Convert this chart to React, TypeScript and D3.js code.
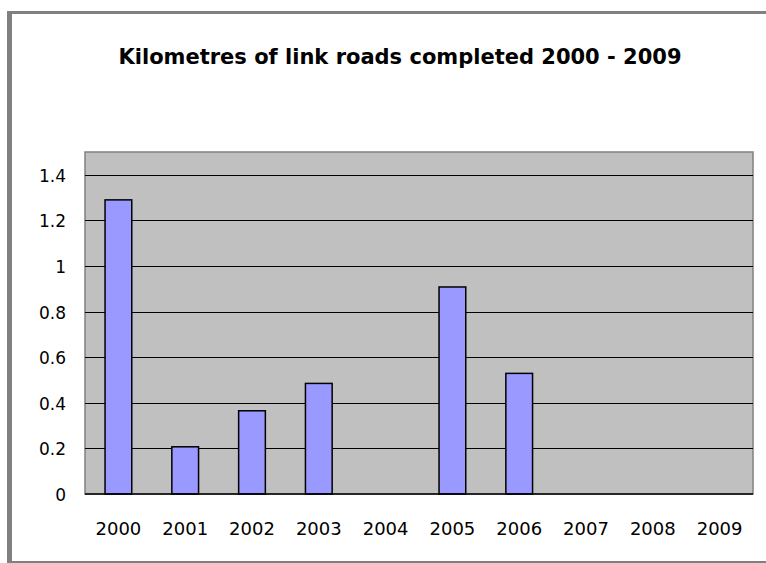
import React, { useRef, useEffect } from "react";
import * as d3 from "d3";

const years = ["2000", "2001", "2002", "2003", "2004", "2005", "2006", "2007", "2008", "2009"];
const kilometres = [1.29, 0.207, 0.365, 0.485, 0, 0.908, 0.529, 0, 0, 0];
const yTicks = [0, 0.2, 0.4, 0.6, 0.8, 1, 1.2, 1.4];
const chartTitle = "Kilometres of link roads completed 2000 - 2009";

export default function App() {
    const ref = useRef<SVGSVGElement>(null);
    const width = 766;
    const height = 563;
    const plot = { left: 85, right: 753, top: 152, bottom: 494 };

    useEffect(() => {
        const svg = d3.select(ref.current);
        svg.selectAll("*").remove();

        // outer frame
        svg.append("rect")
            .attr("x", 7).attr("y", 11)
            .attr("width", width).attr("height", height)
            .attr("fill", "#808080");
        svg.append("rect")
            .attr("x", 12).attr("y", 14)
            .attr("width", width).attr("height", 547)
            .attr("fill", "#ffffff");

        svg.append("text")
            .attr("x", 400).attr("y", 64)
            .attr("text-anchor", "middle")
            .attr("font-family", "DejaVu Sans")
            .attr("font-weight", "bold")
            .attr("font-size", 21)
            .attr("fill", "#000")
            .text(chartTitle);

        const x = d3.scaleBand()
            .domain(years)
            .range([plot.left, plot.right])
            .paddingInner(0.6)
            .paddingOuter(0.3);
        const xCat = d3.scaleBand().domain(years).range([plot.left, plot.right]);

        const y = d3.scaleLinear()
            .domain([0, 1.5])
            .range([plot.bottom, plot.top]);

        // plot area
        svg.append("rect")
            .attr("x", plot.left).attr("y", plot.top)
            .attr("width", plot.right - plot.left)
            .attr("height", plot.bottom - plot.top)
            .attr("fill", "#c0c0c0")
            .attr("stroke", "#808080")
            .attr("stroke-width", 1.5);

        svg.append("g")
            .selectAll("line")
            .data(yTicks.filter(d => d > 0))
            .enter().append("line")
            .attr("x1", plot.left).attr("x2", plot.right)
            .attr("y1", d => Math.round(y(d)) + 0.5)
            .attr("y2", d => Math.round(y(d)) + 0.5)
            .attr("stroke", "#000")
            .attr("stroke-width", 1.2);

        svg.append("g")
            .selectAll("rect")
            .data(kilometres.map((v, i) => ({ year: years[i], v })).filter(d => d.v > 0))
            .enter().append("rect")
            .attr("x", d => x(d.year)!)
            .attr("width", x.bandwidth())
            .attr("y", d => y(d.v))
            .attr("height", d => y(0) - y(d.v))
            .attr("fill", "#9999ff")
            .attr("stroke", "#000")
            .attr("stroke-width", 1.5);

        svg.append("line")
            .attr("x1", plot.left).attr("x2", plot.right)
            .attr("y1", y(0)).attr("y2", y(0))
            .attr("stroke", "#000")
            .attr("stroke-width", 1.5);

        // y labels
        svg.append("g")
            .selectAll("text")
            .data(yTicks)
            .enter().append("text")
            .attr("x", 66)
            .attr("y", d => y(d) + 7)
            .attr("text-anchor", "end")
            .attr("font-family", "DejaVu Sans")
            .attr("font-size", 17)
            .attr("fill", "#000")
            .text(d => d3.format("~g")(d));

        // x labels
        svg.append("g")
            .selectAll("text")
            .data(years)
            .enter().append("text")
            .attr("x", d => xCat(d)! + xCat.bandwidth() / 2)
            .attr("y", 535)
            .attr("text-anchor", "middle")
            .attr("font-family", "DejaVu Sans")
            .attr("font-size", 18)
            .attr("fill", "#000")
            .text(d => d);
    }, []);

    return (
        <div style={{ position: "absolute", left: 0, top: 0 }}>
            <svg ref={ref} width={width} height={height} style={{ display: "block" }} />
        </div>
    );
}
